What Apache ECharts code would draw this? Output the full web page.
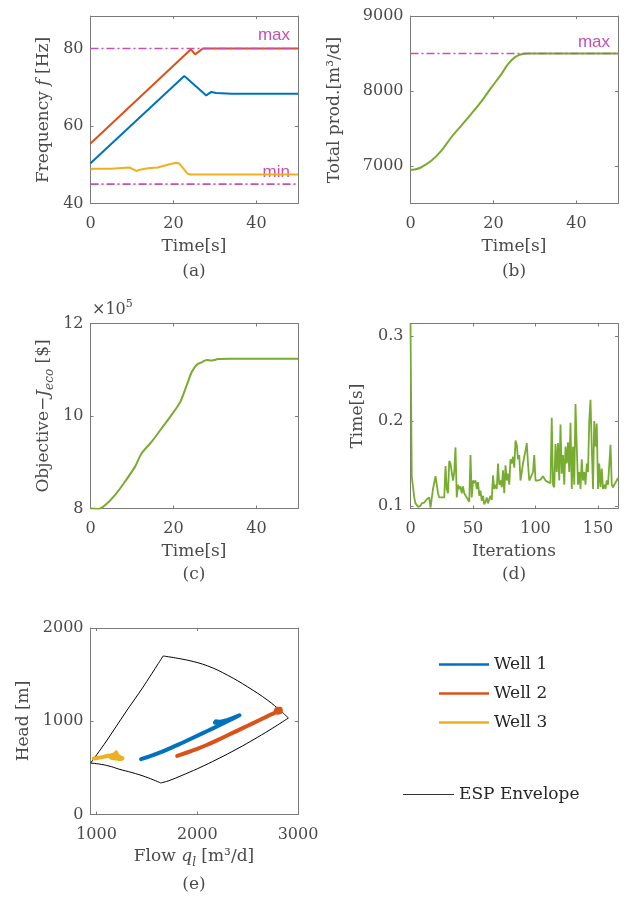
<!DOCTYPE html>
<html>
<head>
<meta charset="utf-8">
<script src="https://cdn.jsdelivr.net/npm/echarts@6/dist/echarts.min.js"></script>
<style>
  html, body { margin: 0; padding: 0; background: #fff; }
  #main { width: 627px; height: 898px; }
</style>
</head>
<body>
<div id="main"></div>
<script>
// ---------- (a) pump frequencies [Hz] vs time [s] ----------
const freqWell1 = [[0,50.4],[22.6,72.9],[27.9,67.9],[29.1,68.8],[30.3,68.5],[34,68.35],[50,68.3]];
const freqWell2 = [[0,55.5],[24.2,79.8],[25.2,78.5],[27.1,80],[50,80]];
const freqWell3 = [[0,48.7],[0.55,49.0],[5,49.0],[9.4,49.3],[11.0,48.4],[12.2,48.8],[13.8,49.1],[16.2,49.3],[18.6,50.0],[20.6,50.5],[21.4,50.3],[23.4,47.7],[24.2,47.5],[50,47.5]];
const freqMax = 80;
const freqMin = 45;

// ---------- (b) total production [m3/d] ----------
const totalProd = [[0,6950],[1,6953],[2.5,6980],[5,7069],[7.4,7202],[9.8,7380],[12.2,7536],[14.6,7692],[17.1,7861],[19.5,8048],[21.9,8226],[23.5,8359],[25.1,8449],[26.7,8490],[28.3,8500],[50,8500]];
const prodMax = 8500;

// ---------- (c) economic objective [$] ----------
const objective = [[0,800000],[1.9,799000],[3.5,807000],[5.9,829000],[8.3,858000],[10.7,890000],[12.3,919000],[14.7,944000],[17.1,973000],[19.5,1002000],[21.6,1030000],[23.2,1067000],[24.4,1095000],[25.6,1111000],[26.8,1116000],[28,1121000],[29.2,1120000],[30.8,1123000],[34,1124000],[50,1124000]];

// ---------- (d) solver time per iteration [s] ----------
const iterTime = [
  0.315,0.135,0.133,0.110,0.103,0.103,0.099,0.097,0.100,0.103,
  0.103,0.104,0.103,0.108,0.110,0.110,0.098,0.100,0.120,0.122,
  0.135,0.125,0.115,0.110,0.112,0.110,0.108,0.110,0.147,0.120,
  0.115,0.153,0.150,0.140,0.130,0.140,0.169,0.110,0.125,0.120,
  0.123,0.115,0.123,0.115,0.113,0.110,0.108,0.105,0.160,0.110,
  0.130,0.127,0.130,0.120,0.128,0.112,0.118,0.106,0.112,0.102,
  0.105,0.110,0.103,0.108,0.112,0.107,0.136,0.120,0.125,0.120,
  0.150,0.125,0.130,0.122,0.142,0.115,0.148,0.130,0.138,0.125,
  0.155,0.150,0.158,0.145,0.177,0.172,0.155,0.160,0.130,0.140,
  0.150,0.158,0.165,0.174,0.150,0.130,0.133,0.135,0.140,0.160,
  0.130,0.130,0.130,0.129,0.131,0.130,0.135,0.133,0.130,0.128,
  0.128,0.128,0.127,0.204,0.125,0.122,0.173,0.140,0.174,0.130,
  0.196,0.138,0.160,0.125,0.170,0.150,0.175,0.140,0.198,0.120,
  0.170,0.125,0.220,0.170,0.125,0.140,0.120,0.155,0.130,0.140,
  0.125,0.150,0.140,0.200,0.225,0.170,0.120,0.200,0.170,0.197,
  0.120,0.150,0.122,0.144,0.120,0.125,0.120,0.130,0.125,0.125,
  0.172,0.125,0.122,0.125,0.126,0.130,0.133
];

// ---------- (e) operating points: flow [m3/d], head [m] ----------
const well1Flow = [1442,1500,1600,1700,1800,1906,2000,2100,2200,2300,2419,2380,2300,2240,2195,2175,2185,2210];
const well1Head = [593,614,652,696,744,796,845,895,947,1000,1064,1046,1012,998,988,985,999,995];
const well2Flow = [1800,1900,2000,2100,2200,2302,2400,2500,2600,2700,2799,2830,2825,2790,2780,2800,2830];
const well2Head = [628,665,705,748,797,850,900,952,1003,1055,1107,1110,1135,1135,1110,1090,1100];
const well3Flow = [973,1020,1070,1120,1160,1190,1195,1200,1215,1240,1258,1250,1220,1190,1160,1140,1150,1180];
const well3Head = [600,608,618,630,640,652,668,650,628,612,605,598,596,600,605,612,620,615];
// pump operating envelope, one boundary at a time
const envLeftFlow   = [942,1092,1291,1456,1661];
const envLeftHead   = [552,778,1100,1357,1700];
const envTopFlow    = [1661,1906,2104,2302,2501,2699,2832,2905];
const envTopHead    = [1700,1654,1593,1493,1368,1225,1107,1035];
const envRightFlow  = [2905,2750,2600,2450,2300,2150,2000,1850,1720,1638];
const envRightHead  = [1035,927,829,736,649,567,490,420,363,338];
const envBottomFlow = [1638,1489,1350,1224,1150,1050,942];
const envBottomHead = [338,403,450,486,512,537,552];

// ---------- styling ----------
const SERIF = 'DejaVu Serif';
const SANS = 'Liberation Sans';
const AX = '#7a7a7a';
const TXT = '#4a4a4a';
const MAG = '#c64fb2';
const C_BLUE = '#0072BD', C_RED = '#D95319', C_YEL = '#EDB120', C_GRN = '#77AC30';
const DASHDOT = [8, 3, 2, 3];

const grids = [
  { left: 90.5, top: 16, width: 207.5, height: 187.5 },   // (a)
  { left: 410.5, top: 16, width: 207.5, height: 187.5 },  // (b)
  { left: 90.5, top: 323.5, width: 207.5, height: 185 },  // (c)
  { left: 410.5, top: 323.5, width: 207.5, height: 185 }, // (d)
  { left: 90.5, top: 628, width: 207.5, height: 186.5 }   // (e)
];

const xAxes = [], yAxes = [];
function boxAxes(g, xr, yr) {
  const line = { show: true, onZero: false, lineStyle: { color: AX, width: 1 } };
  const tick = vals => ({ show: true, inside: true, length: 3, customValues: vals, lineStyle: { color: AX, width: 1 } });
  const lab = (vals, fmt, margin) => ({ show: true, customValues: vals, margin, color: TXT, fontFamily: SERIF, fontSize: 16, formatter: fmt || (v => String(v)) });
  xAxes.push({ gridIndex: g, type: 'value', position: 'bottom', min: xr.min, max: xr.max,
    axisLine: line, axisTick: tick(xr.ticks), axisLabel: lab(xr.ticks, xr.fmt, 12), splitLine: { show: false } });
  xAxes.push({ gridIndex: g, type: 'value', position: 'top', min: xr.min, max: xr.max,
    axisLine: line, axisTick: tick(xr.ticks), axisLabel: { show: false }, splitLine: { show: false } });
  yAxes.push({ gridIndex: g, type: 'value', position: 'left', min: yr.min, max: yr.max,
    axisLine: line, axisTick: tick(yr.ticks), axisLabel: lab(yr.ticks, yr.fmt, 7), splitLine: { show: false } });
  yAxes.push({ gridIndex: g, type: 'value', position: 'right', min: yr.min, max: yr.max,
    axisLine: line, axisTick: tick(yr.ticks), axisLabel: { show: false }, splitLine: { show: false } });
}
boxAxes(0, { min: 0, max: 50, ticks: [0, 20, 40] }, { min: 40, max: 88.4, ticks: [40, 60, 80] });
boxAxes(1, { min: 0, max: 50, ticks: [0, 20, 40] }, { min: 6500, max: 9000, ticks: [7000, 8000, 9000] });
boxAxes(2, { min: 0, max: 50, ticks: [0, 20, 40] }, { min: 800000, max: 1200000, ticks: [800000, 1000000, 1200000], fmt: v => String(Math.round(v / 1e5)) });
boxAxes(3, { min: 0, max: 166, ticks: [0, 50, 100, 150] }, { min: 0.097, max: 0.315, ticks: [0.1, 0.2, 0.3], fmt: v => v.toFixed(1) });
boxAxes(4, { min: 940, max: 3000, ticks: [1000, 2000, 3000] }, { min: 0, max: 2000, ticks: [0, 1000, 2000] });

function lineSeries(g, name, data, color, width, extra) {
  return Object.assign({
    type: 'line', name, xAxisIndex: 2 * g, yAxisIndex: 2 * g, data,
    showSymbol: false, symbol: 'none', clip: true,
    lineStyle: { color, width }, itemStyle: { color }, emphasis: { disabled: true }
  }, extra || {});
}
const pairs = (xs, ys) => xs.map((x, k) => [x, ys[k]]);
const hline = (x0, x1, y) => [[x0, y], [x1, y]];
const limitStyle = { z: 5, lineStyle: { color: MAG, width: 1.6, type: DASHDOT } };
const trackStyle = c => ({ smooth: 0.2, z: 4, lineStyle: { color: c, width: 4, cap: 'round', join: 'round' } });

const series = [
  // (a)
  lineSeries(0, 'Well 1 frequency', freqWell1, C_BLUE, 2),
  lineSeries(0, 'Well 2 frequency', freqWell2, C_RED, 2),
  lineSeries(0, 'Well 3 frequency', freqWell3, C_YEL, 2),
  lineSeries(0, 'max frequency', hline(0, 50, freqMax), MAG, 1.6, limitStyle),
  lineSeries(0, 'min frequency', hline(0, 50, freqMin), MAG, 1.6, limitStyle),
  // (b)
  lineSeries(1, 'Total production', totalProd, C_GRN, 2, { smooth: 0.3 }),
  lineSeries(1, 'max production', hline(0, 50, prodMax), MAG, 1.6, limitStyle),
  // (c)
  lineSeries(2, 'Objective', objective, C_GRN, 2, { smooth: 0.3 }),
  // (d)
  lineSeries(3, 'Iteration time', iterTime.map((v, i) => [i, v]), C_GRN, 1.8),
  // (e)
  lineSeries(4, 'ESP Envelope', pairs(envLeftFlow, envLeftHead), '#000000', 1, { smooth: 0.3 }),
  lineSeries(4, 'ESP Envelope', pairs(envTopFlow, envTopHead), '#000000', 1, { smooth: 0.4 }),
  lineSeries(4, 'ESP Envelope', pairs(envRightFlow, envRightHead), '#000000', 1, { smooth: 0.3 }),
  lineSeries(4, 'ESP Envelope', pairs(envBottomFlow, envBottomHead), '#000000', 1, { smooth: 0.4 }),
  lineSeries(4, 'Well 1', pairs(well1Flow, well1Head), C_BLUE, 4, trackStyle(C_BLUE)),
  lineSeries(4, 'Well 2', pairs(well2Flow, well2Head), C_RED, 4, trackStyle(C_RED)),
  lineSeries(4, 'Well 3', pairs(well3Flow, well3Head), C_YEL, 4, trackStyle(C_YEL))
];

const rich = {
  n: { fontFamily: SERIF, fontSize: 17, color: TXT, lineHeight: 24 },
  i: { fontFamily: SERIF, fontStyle: 'italic', fontSize: 17, color: TXT, lineHeight: 24 },
  sub: { fontFamily: SERIF, fontStyle: 'italic', fontSize: 12, color: TXT, lineHeight: 13, verticalAlign: 'bottom' },
  sup: { fontFamily: SERIF, fontSize: 11, color: TXT, lineHeight: 12, verticalAlign: 'top' },
  t: { fontFamily: SERIF, fontSize: 16, color: TXT, lineHeight: 22 }
};
function txt(x, y, text, opts) {
  opts = opts || {};
  return {
    type: 'text', x, y, rotation: opts.rot || 0, silent: true,
    style: {
      text, rich, align: opts.align || 'center', verticalAlign: 'middle',
      font: (opts.font || ('17px "' + SERIF + '"')), fill: opts.color || TXT
    }
  };
}
const R = Math.PI / 2;
const graphic = [
  // x titles and panel tags
  txt(194, 246.5, 'Time[s]'), txt(194, 271.5, '(a)'),
  txt(514, 246.5, 'Time[s]'), txt(514, 271.5, '(b)'),
  txt(194, 551.5, 'Time[s]'), txt(194, 575, '(c)'),
  txt(514, 551.5, 'Iterations'), txt(514, 575, '(d)'),
  txt(194, 856.5, '{n|Flow }{i|q}{sub|l}{n| [m³/d]}'), txt(194, 885, '(e)'),
  // y titles
  txt(44, 110, '{n|Frequency }{i|f}{n| [Hz]}', { rot: R }),
  txt(335, 110, 'Total prod.[m³/d]', { rot: R }),
  txt(44, 416, '{n|Objective−}{i|J}{sub|eco}{n| [$]}', { rot: R }),
  txt(358, 416, 'Time[s]', { rot: R }),
  txt(23.5, 721, 'Head [m]', { rot: R }),
  // exponent of (c)
  txt(92, 310, '{t|×10}{sup|5}', { align: 'left' }),
  // limit annotations
  txt(290, 35.5, 'max', { align: 'right', font: '17px "' + SANS + '"', color: MAG }),
  txt(290, 172, 'min', { align: 'right', font: '17px "' + SANS + '"', color: MAG }),
  txt(610, 42, 'max', { align: 'right', font: '17px "' + SANS + '"', color: MAG })
];

const legendText = { fontFamily: SERIF, fontSize: 17, color: '#262626' };
const option = {
  animation: false,
  backgroundColor: '#ffffff',
  grid: grids,
  xAxis: xAxes,
  yAxis: yAxes,
  legend: [
    { data: ['Well 1', 'Well 2', 'Well 3'], orient: 'vertical', left: 439, top: 656,
      icon: 'rect', itemWidth: 50, itemHeight: 2.5, itemGap: 12, padding: 0, selectedMode: false,
      textStyle: legendText },
    { data: ['ESP Envelope'], orient: 'vertical', left: 403, top: 786,
      icon: 'rect', itemWidth: 51, itemHeight: 1, padding: 0, selectedMode: false,
      itemStyle: { color: '#333333' }, textStyle: legendText }
  ],
  series,
  graphic
};

const chart = echarts.init(document.getElementById('main'), null, { renderer: 'canvas' });
chart.setOption(option);
</script>
</body>
</html>
